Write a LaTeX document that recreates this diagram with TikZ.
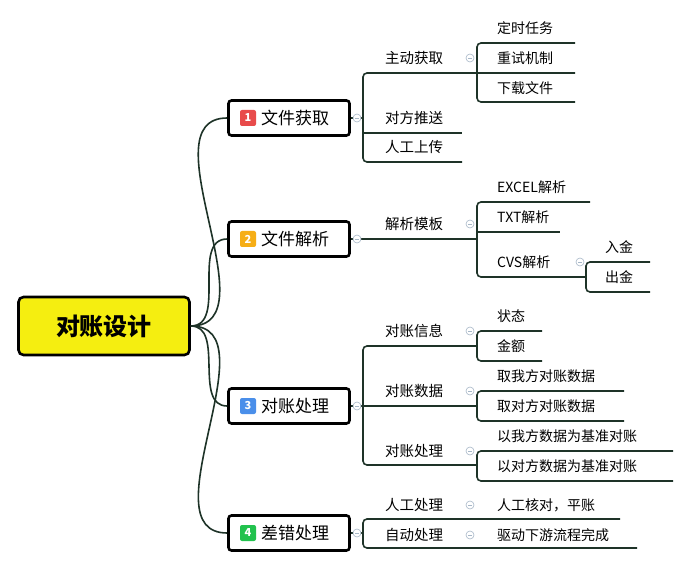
\documentclass[tikz,border=0pt]{standalone}
\usepackage{fontspec}
\setmainfont{Noto Sans CJK SC}
\usetikzlibrary{calc}
\usetikzlibrary{positioning}

\definecolor{linec}{HTML}{1E3328}
\definecolor{rootc}{HTML}{F5EE10}
\definecolor{foldc}{HTML}{A8B8C8}
\definecolor{b1}{HTML}{E84B4B}
\definecolor{b2}{HTML}{F6AE16}
\definecolor{b3}{HTML}{4A8FEA}
\definecolor{b4}{HTML}{22C24E}

\tikzset{
  mainbox/.style={draw=black,line width=2.6pt,rounded corners=3pt,fill=white,
    minimum width=121pt,minimum height=35pt,font=\fontsize{17}{17}\selectfont},
  badge/.style={fill=#1,rounded corners=2pt,text=white,minimum size=16pt,inner sep=0pt,
    font=\fontsize{11}{11}\selectfont\bfseries},
  subtext/.style={anchor=west,inner sep=0pt,font=\fontsize{14.5}{14.5}\selectfont},
  leaftext/.style={anchor=west,inner sep=0pt,font=\fontsize{14}{14}\selectfont},
  branch/.style={draw=linec,line width=1.6pt,rounded corners=4pt},
  fold/.style={draw=foldc,fill=white,line width=0.6pt,circle,minimum size=8pt,inner sep=0pt,
    path picture={\draw[foldc,line width=0.6pt] ([xshift=-2pt]path picture bounding box.center) -- ([xshift=2pt]path picture bounding box.center);}}
}

\begin{document}
\begin{tikzpicture}[x=1pt,y=-1pt]
\fill[white] (0,0) rectangle (691,572);

% root and main topics
\node[draw=black,line width=2.6pt,rounded corners=5pt,fill=rootc,minimum width=171pt,minimum height=58pt,
  font=\fontsize{24}{24}\selectfont\bfseries] (root) at (104,326) {对账设计};
\node[mainbox] (m1) at (289,118) {\phantom{1}\,文件获取};
\node[mainbox] (m2) at (289,239) {\phantom{1}\,文件解析};
\node[mainbox] (m3) at (289,406) {\phantom{1}\,对账处理};
\node[mainbox] (m4) at (289,533) {\phantom{1}\,差错处理};
\node[badge=b1] (n1) at (248,118) {1};
\node[badge=b2] (n2) at (248,239) {2};
\node[badge=b3] (n3) at (248,406) {3};
\node[badge=b4] (n4) at (248,533) {4};

\foreach \m in {m1,m2,m3,m4}
  \draw[linec,line width=1.6pt] (root.east) to[out=0,in=180] (\m.west);

% branch 1
\node[subtext] (s11) at (385,58) {主动获取};
\node[subtext] (s12) at (385,118) {对方推送};
\node[subtext] (s13) at (385,147) {人工上传};
\path[branch] (575,73) -- (363,73) -- (363,162) -- (462,162);
\draw[linec,line width=1.6pt] (363,133) -- (462,133);
\draw[linec,line width=1.6pt] (m1.east) -- (363,118);
\node[leaftext] (l111) at (497,28) {定时任务};
\node[leaftext] (l112) at (497,58) {重试机制};
\node[leaftext] (l113) at (497,88) {下载文件};
\path[branch] (575,43) -- (477,43) -- (477,102) -- (575,102);

% branch 2
\node[subtext] (s21) at (385,224) {解析模板};
\draw[linec,line width=1.6pt] (m2.east) -- (477,239);
\node[leaftext] (l211) at (497,187) {EXCEL解析};
\node[leaftext] (l212) at (497,217) {TXT解析};
\node[leaftext] (l213) at (497,262) {CVS解析};
\path[branch] (590,202) -- (477,202) -- (477,277) -- (586,277);
\draw[linec,line width=1.6pt] (477,232) -- (560,232);
\node[leaftext] (l2131) at (605,247) {入金};
\node[leaftext] (l2132) at (605,277) {出金};
\path[branch] (650,262) -- (586,262) -- (586,292) -- (650,292);

% branch 3
\node[subtext] (s31) at (385,331) {对账信息};
\node[subtext] (s32) at (385,391) {对账数据};
\node[subtext] (s33) at (385,451) {对账处理};
\path[branch] (477,346) -- (363,346) -- (363,465) -- (477,465);
\draw[linec,line width=1.6pt] (m3.east) -- (477,406);
\node[leaftext] (l311) at (497,316) {状态};
\node[leaftext] (l312) at (497,346) {金额};
\path[branch] (542,331) -- (477,331) -- (477,361) -- (542,361);
\node[leaftext] (l321) at (497,376) {取我方对账数据};
\node[leaftext] (l322) at (497,406) {取对方对账数据};
\path[branch] (624,391) -- (477,391) -- (477,421) -- (624,421);
\node[leaftext] (l331) at (497,436) {以我方数据为基准对账};
\node[leaftext] (l332) at (497,466) {以对方数据为基准对账};
\path[branch] (673,451) -- (477,451) -- (477,481) -- (673,481);

% branch 4
\node[subtext] (s41) at (385,505) {人工处理};
\node[subtext] (s42) at (385,535) {自动处理};
\path[branch] (620,519) -- (363,519) -- (363,548) -- (637,548);
\draw[linec,line width=1.6pt] (m4.east) -- (363,533);
\node[leaftext] (l411) at (497,505) {人工核对，平账};
\node[leaftext] (l421) at (497,535) {驱动下游流程完成};

% fold marks
\foreach \p in {(357,118),(357,239),(357,406),(357,533),(470,58),(470,224),(580,262),
  (470,331),(470,391),(470,451),(470,505),(470,535)}
  \node[fold] at \p {};
\end{tikzpicture}
\end{document}
